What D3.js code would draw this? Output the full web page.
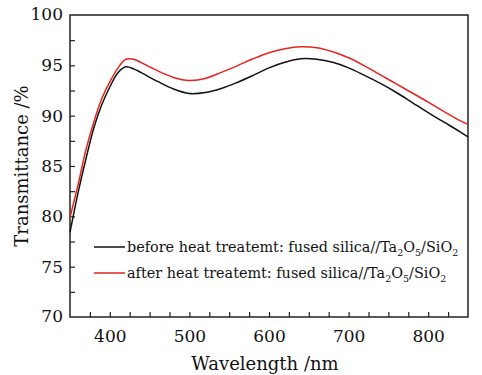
<!doctype html>
<html>
<head>
<meta charset="utf-8">
<title>Transmittance</title>
<script src="https://cdn.jsdelivr.net/npm/d3@7/dist/d3.min.js"></script>
<style>
  body { margin: 0; background: #fff; }
  text { font-family: "DejaVu Serif", serif; fill: #111; }
</style>
</head>
<body>
<div id="chart-area"></div>
<script>
  // data
  var wavelength = [350, 360, 370, 380, 390, 400, 410, 420, 430, 440, 460, 480, 500, 520, 540, 560,
    580, 600, 620, 640, 660, 680, 700, 720, 740, 760, 780, 800, 820, 840, 850];
  var before = [78.4, 82.3, 85.7, 88.8, 91.1, 92.85, 94.25, 94.85, 94.65, 94.25, 93.4, 92.65, 92.2, 92.3, 92.7, 93.3,
    94.0, 94.75, 95.3, 95.65, 95.6, 95.3, 94.75, 94.0, 93.2, 92.3, 91.3, 90.3, 89.35, 88.4, 87.9];
  var after = [79.9, 83.1, 86.6, 89.4, 91.7, 93.35, 94.7, 95.6, 95.6, 95.25, 94.45, 93.8, 93.5, 93.7, 94.3, 94.95,
    95.65, 96.25, 96.65, 96.85, 96.75, 96.35, 95.75, 94.95, 94.05, 93.15, 92.25, 91.35, 90.4, 89.5, 89.15];
  var xTickLabels = [400, 500, 600, 700, 800];
  var yTickLabels = [70, 75, 80, 85, 90, 95, 100];

  var margin = {left: 70, right: 14, top: 15, bottom: 58};
  var width = 482 - margin.left - margin.right;
  var height = 375 - margin.top - margin.bottom;

  var svg = d3.select('#chart-area')
      .append('svg')
      .attr('width', 482)
      .attr('height', 375);
  var g = svg.append('g')
      .attr('transform', 'translate(' + margin.left + ',' + margin.top + ')');

  var x = d3.scaleLinear().domain([350, 850]).range([0, width]);
  var y = d3.scaleLinear().domain([70, 100]).range([height, 0]);

  // ticks (inward)
  var xAxis = g.append('g')
      .attr('transform', 'translate(0,' + height + ')')
      .call(d3.axisBottom(x)
          .tickValues(d3.range(375, 850, 25))
          .tickSizeInner(-5).tickSizeOuter(0)
          .tickFormat(function(d) { return xTickLabels.indexOf(d) >= 0 ? d : ''; }));
  xAxis.selectAll('text')
      .attr('y', 13)
      .attr('font-size', '17px');

  var yAxis = g.append('g')
      .call(d3.axisLeft(y)
          .tickValues(d3.range(72.5, 100, 2.5))
          .tickSizeInner(-5).tickSizeOuter(0)
          .tickFormat(function(d) { return yTickLabels.indexOf(d) >= 0 ? d : ''; }));
  yAxis.selectAll('text')
      .attr('x', -7)
      .attr('font-size', '17px');

  g.selectAll('.domain').remove();
  g.selectAll('.tick line').attr('stroke', '#222').attr('stroke-width', 1.2);
  g.selectAll('.tick text').style('font-family', '"DejaVu Serif", serif').attr('fill', '#111');

  // end labels at frame corners
  g.append('text').attr('x', -7).attr('y', y(100)).attr('dy', '0.32em')
      .attr('text-anchor', 'end').attr('font-size', '17px').text(100);
  g.append('text').attr('x', -7).attr('y', y(70)).attr('dy', '0.32em')
      .attr('text-anchor', 'end').attr('font-size', '17px').text(70);

  // frame
  g.append('rect')
      .attr('width', width)
      .attr('height', height)
      .attr('fill', 'none')
      .attr('stroke', '#222')
      .attr('stroke-width', 1.5);

  var line = d3.line()
      .x(function(d) { return x(d[0]); })
      .y(function(d) { return y(d[1]); })
      .curve(d3.curveCatmullRom.alpha(0.5));

  var series = [
    {values: before, color: '#111', label: 'before heat treatemt: fused silica//Ta'},
    {values: after, color: '#e8231e', label: 'after heat treatemt: fused silica//Ta'}
  ];

  series.forEach(function(s) {
    g.append('path')
        .datum(wavelength.map(function(w, i) { return [w, s.values[i]]; }))
        .attr('fill', 'none')
        .attr('stroke', s.color)
        .attr('stroke-width', 1.5)
        .attr('d', line);
  });

  // legend
  var legend = g.append('g').attr('transform', 'translate(24,232)');
  series.forEach(function(s, i) {
    var row = legend.append('g').attr('transform', 'translate(0,' + (i * 26) + ')');
    row.append('line')
        .attr('x1', 0).attr('x2', 31)
        .attr('stroke', s.color).attr('stroke-width', 1.5);
    var t = row.append('text')
        .attr('x', 33).attr('dy', '0.35em')
        .attr('font-size', '14.4px');
    t.append('tspan').text(s.label);
    t.append('tspan').attr('dy', 4).attr('font-size', '9.5px').text('2');
    t.append('tspan').attr('dy', -4).text('O');
    t.append('tspan').attr('dy', 4).attr('font-size', '9.5px').text('5');
    t.append('tspan').attr('dy', -4).text('/SiO');
    t.append('tspan').attr('dy', 4).attr('font-size', '9.5px').text('2');
  });

  // axis titles
  g.append('text')
      .attr('x', (x(350) + x(850)) / 2 - 4)
      .attr('y', height + 53)
      .attr('text-anchor', 'middle')
      .attr('font-size', '18px')
      .text('Wavelength /nm');

  g.append('text')
      .attr('transform', 'rotate(-90)')
      .attr('x', -height / 2)
      .attr('y', -42)
      .attr('text-anchor', 'middle')
      .attr('font-size', '18px')
      .text('Transmittance /%');
</script>
</body>
</html>
